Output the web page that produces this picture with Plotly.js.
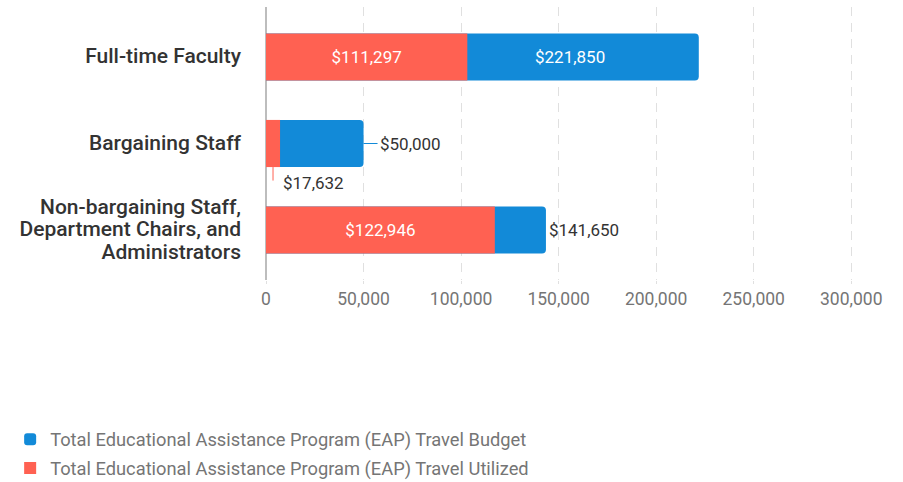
<!DOCTYPE html>
<html><head><meta charset="utf-8">
<script src="https://cdn.plot.ly/plotly-3.0.1.min.js"></script>
<style>html,body{margin:0;padding:0;background:#fff}#chart{width:903px;height:482px}</style>
</head><body><div id="chart"></div>
<script>
const categories = ['Full-time Faculty', 'Bargaining Staff', 'Non-bargaining Staff,<br>Department Chairs, and<br>Administrators'];
const budget = [221850, 50000, 143500];
const utilized = [103200, 7200, 117300];
const budgetLabels = ['$221,850', '$50,000', '$141,650'];
const utilizedLabels = ['$111,297', '$17,632', '$122,946'];
const xTicks = [0, 50000, 100000, 150000, 200000, 250000, 300000];
const seriesNames = ['Total Educational Assistance Program (EAP) Travel Budget', 'Total Educational Assistance Program (EAP) Travel Utilized'];

const BLUE = '#128ad8', RED = '#ff6152';
const BW = 0.545;
const LABEL_FONT = {color: '#333333', size: 17, family: 'Roboto'};
const WHITE_FONT = {color: '#ffffff', size: 17, family: 'Roboto'};

// category tick text: each line drawn at 21px while line spacing follows the 17.3px base font
const tickText = categories.map(c => c.split('<br>').map(l => '<span style="font-size:21px">' + l + '</span>').join('<br>'));

const traces = [
  {
    type: 'bar', orientation: 'h', name: seriesNames[0], legendgroup: 'a',
    y: categories, x: budget, width: BW,
    marker: {color: BLUE, cornerradius: 4},
    text: ['', '', budgetLabels[2]], textposition: ['none', 'none', 'outside'],
    textfont: LABEL_FONT, cliponaxis: false, hoverinfo: 'x+name'
  },
  {
    type: 'bar', orientation: 'h', name: seriesNames[1], legendgroup: 'b',
    y: categories, x: utilized, width: BW,
    marker: {color: RED},
    text: [utilizedLabels[0], '', utilizedLabels[2]], textposition: ['inside', 'none', 'inside'],
    insidetextanchor: 'middle', textfont: WHITE_FONT, hoverinfo: 'x+name'
  }
];

const annotations = [
  {x: (utilized[0] + budget[0]) / 2, y: categories[0], xref: 'x', yref: 'y', text: budgetLabels[0],
   showarrow: false, xshift: -13, font: WHITE_FONT},
  {x: budget[1], y: categories[1], xref: 'x', yref: 'y', text: budgetLabels[1],
   showarrow: true, arrowhead: 0, arrowwidth: 1, arrowcolor: BLUE, ax: 14, ay: 0, xanchor: 'left',
   font: LABEL_FONT},
  {x: utilized[1] / 2, y: 1 + BW / 2, xref: 'x', yref: 'y', text: ' ',
   showarrow: true, arrowhead: 0, arrowwidth: 1, arrowcolor: RED, ax: 0, ay: 16, standoff: 0,
   font: {size: 2}},
  {x: utilized[1] / 2, y: 1 + BW / 2, xref: 'x', yref: 'y', text: utilizedLabels[1],
   showarrow: false, xanchor: 'left', yanchor: 'middle', xshift: 8, yshift: -15.5,
   font: LABEL_FONT}
];

const layout = {
  width: 903, height: 482,
  margin: {l: 266, r: 42, t: 7, b: 202, pad: 0},
  paper_bgcolor: '#ffffff', plot_bgcolor: '#ffffff',
  font: {family: 'Roboto', color: '#333333'},
  barmode: 'overlay',
  showlegend: true,
  legend: {
    xref: 'paper', yref: 'container', x: -0.43, y: 0.127, yanchor: 'top', xanchor: 'left',
    orientation: 'v', traceorder: 'grouped', tracegroupgap: 2,
    font: {family: 'Roboto', size: 18.3, color: '#757575'}
  },
  xaxis: {
    range: [0, 305000], tickvals: xTicks, tickformat: ',d',
    showgrid: true, gridcolor: '#e0e0e0', griddash: '9px,7px', gridwidth: 1,
    zeroline: true, zerolinecolor: '#bdbdbd', zerolinewidth: 1.5,
    ticks: 'outside', ticklen: 3, tickcolor: '#e0e0e0',
    showline: false,
    tickfont: {family: 'Roboto', size: 17.5, color: '#757575'},
    fixedrange: true
  },
  yaxis: {
    type: 'category', range: [2 + 0.578, -0.578],
    tickvals: categories, ticktext: tickText,
    showgrid: false, zeroline: false, showline: false, ticks: '',
    ticklabelstandoff: 24,
    tickfont: {family: 'Roboto', size: 17.3, color: '#333333', weight: 500},
    fixedrange: true
  },
  annotations: annotations
};

Plotly.newPlot('chart', traces, layout, {displayModeBar: false, staticPlot: true});
</script></body></html>
